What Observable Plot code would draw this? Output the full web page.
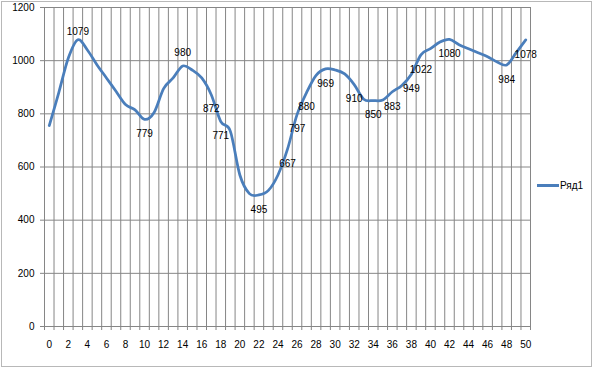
<!DOCTYPE html>
<html><head><meta charset="utf-8">
<script src="https://cdn.jsdelivr.net/npm/d3@7"></script>
<script src="https://cdn.jsdelivr.net/npm/@observablehq/plot@0.6"></script>
<style>
body{margin:0;background:#fff;}
#wrap{position:relative;width:594px;height:369px;font-family:"Liberation Sans",Arial,sans-serif;}
#border{position:absolute;left:1px;top:1px;width:591px;height:366px;border:1px solid #b8b8b8;box-sizing:border-box;pointer-events:none;}
#legend{position:absolute;left:537px;top:178px;height:14px;display:flex;align-items:center;font-size:10px;color:#000;}
#legend .sw{width:22px;height:3px;background:#4A7EBB;margin-right:1px;}
</style>
</head><body>
<div id="wrap"><div id="chart"></div><div id="border"></div>
<div id="legend"><span class="sw"></span><span id="legendText"></span></div></div>
<script>
const seriesName = "Ряд1";
const categories = [0,1,2,3,4,5,6,7,8,9,10,11,12,13,14,15,16,17,18,19,20,21,22,23,24,25,26,27,28,29,30,31,32,33,34,35,36,37,38,39,40,41,42,43,44,45,46,47,48,49,50];
const values = [756,880,1010,1079,1040,985,935,885,835,815,779,805,895,935,980,965,935,872,771,735,570,500,495,512,570,667,797,880,945,969,965,950,910,855,850,852,883,907,949,1022,1045,1070,1080,1060,1045,1030,1015,995,984,1030,1078];
const labeledCategories = [3,10,14,17,18,22,25,26,27,29,32,34,36,38,39,42,48,50];
const labelsAbove = [3,14];
const xTickLabels = [0,2,4,6,8,10,12,14,16,18,20,22,24,26,28,30,32,34,36,38,40,42,44,46,48,50];
const yTickLabels = [0,200,400,600,800,1000,1200];

document.getElementById("legendText").textContent = seriesName;

const data = categories.map((c, i) => ({x: c, y: values[i]}));
const labelData = data.filter(d => labeledCategories.includes(d.x));
const below = labelData.filter(d => !labelsAbove.includes(d.x));
const aboveOffset = {3: -8, 14: -13};
const above = labelData.filter(d => labelsAbove.includes(d.x));
const boundaries = d3.range(categories.length + 1).map(k => categories[0] - 0.5 + k);

const grid = "#868686";
const chart = Plot.plot({
  width: 594, height: 369,
  marginLeft: 44, marginRight: 64, marginTop: 7, marginBottom: 43,
  style: {fontFamily: '"Liberation Sans", Arial, sans-serif', fontSize: "10px", color: "#000", background: "transparent"},
  x: {domain: [categories[0] - 0.5, categories[categories.length - 1] + 0.5], label: null},
  y: {domain: [0, 1200], label: null},
  marks: [
    Plot.gridX(boundaries, {stroke: grid, strokeOpacity: 1}),
    Plot.gridY(yTickLabels, {stroke: grid, strokeOpacity: 1}),
    Plot.axisX(boundaries, {tickSize: 4, tickFormat: () => "", stroke: grid, label: null}),
    Plot.axisX(xTickLabels, {tickSize: 0, tickPadding: 14, fill: "#000", label: null}),
    Plot.axisY(yTickLabels, {tickSize: 4, tickPadding: 6, stroke: grid, fill: "#000", label: null, tickFormat: d => String(d)}),
    Plot.line(data, {x: "x", y: "y", stroke: "#4A7EBB", strokeWidth: 2.75, strokeLinejoin: "round", curve: d3.curveCatmullRom.alpha(0)}),
    Plot.text(below, {x: "x", y: "y", text: d => String(d.y), dy: 14.6, fill: "#000"}),
    ...above.map(d => Plot.text([d], {x: "x", y: "y", text: d => String(d.y), dy: aboveOffset[d.x], fill: "#000"}))
  ]
});
document.getElementById("chart").appendChild(chart);
</script>
</body></html>
